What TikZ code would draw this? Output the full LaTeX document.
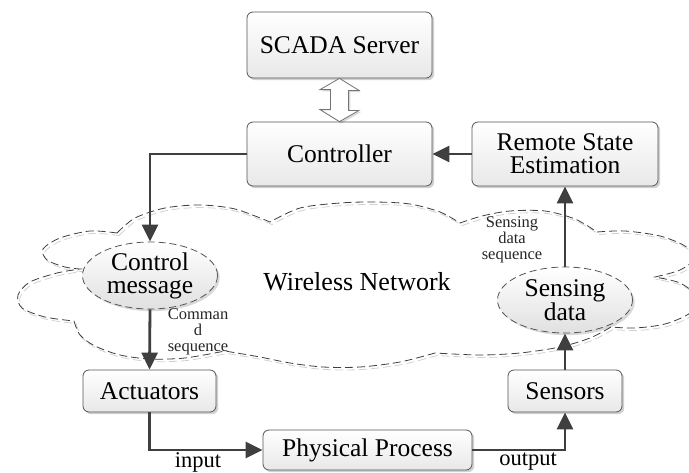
\documentclass[tikz,border=0pt]{standalone}
\usepackage{fontspec}
\setmainfont{Liberation Serif}
\usetikzlibrary{shapes.geometric,arrows.meta,shadows,calc}
\definecolor{dk}{HTML}{3F3F3F}
\definecolor{bd}{HTML}{555555}
\begin{document}
\begin{tikzpicture}[x=1pt,y=-1pt,
  box/.style={rectangle, draw=bd, line width=0.8pt, rounded corners=6pt,
     top color=white, bottom color=black!9, inner sep=0pt, align=center,
     drop shadow={shadow xshift=2.2pt, shadow yshift=-2.2pt, fill=black, opacity=0.18},
     font=\fontsize{25.5}{23}\selectfont},
  ell/.style={ellipse, draw=bd, line width=0.8pt, dash pattern=on 7pt off 4pt,
     top color=white, bottom color=black!12, inner sep=0pt, align=center,
     drop shadow={shadow xshift=2.2pt, shadow yshift=-2.2pt, fill=black, opacity=0.15},
     font=\fontsize{25.5}{23}\selectfont},
  arr/.style={draw=dk, line width=2.8pt, -{Triangle[length=17pt,width=16pt]}},
  small/.style={font=\fontsize{16.5}{16}\selectfont, align=center, inner sep=0pt, text=black!85},
  lbl/.style={font=\fontsize{22.5}{22.5}\selectfont, inner sep=0pt},
  cloudline/.style={draw=dk, line width=0.8pt, dash pattern=on 8pt off 4pt},
  cloudshadow/.style={draw=black!18, line width=0.8pt, dash pattern=on 8pt off 4pt},
  dbl/.style={draw=black!55, line width=0.8pt, fill=white},
]
\useasboundingbox (0,0) rectangle (689,472);
\def\mycloud{
  plot[smooth] coordinates {(117,233) (135,218) (165,208) (200,205) (235,209) (270,222)}
  -- plot[smooth] coordinates {(270,222) (300,208) (340,203) (375,202) (410,204) (440,212) (460,223)}
  -- plot[smooth] coordinates {(460,223) (482,216) (510,211) (545,211) (575,219) (597,232)}
  -- plot[smooth] coordinates {(597,232) (625,231) (660,236) (685,246) (695,258) (680,270) (655,277)}
  -- plot[smooth] coordinates {(655,277) (680,283) (697,297) (690,313) (665,324) (635,328) (611,327)}
  -- plot[smooth] coordinates {(611,327) (590,338) (560,347) (520,353) (480,355) (435,353)}
  -- plot[smooth] coordinates {(435,353) (400,362) (360,367) (323,367) (290,363) (260,357) (225,351)}
  -- plot[smooth] coordinates {(225,351) (185,358) (150,359) (120,355) (95,346) (80,335) (74,321)}
  -- plot[smooth] coordinates {(74,321) (45,317) (22,308) (18,295) (30,282) (57,273) (80,269)}
  -- plot[smooth] coordinates {(80,269) (65,267) (47,260) (43,249) (60,238) (90,231) (117,233)}
}
% cloud
\draw[cloudshadow, xshift=2pt, yshift=-2.5pt] \mycloud;
\draw[cloudline] \mycloud;
\node[font=\fontsize{26}{26}\selectfont] (wn) at (357,282) {Wireless Network};

% nodes
\node[box, minimum width=185pt, minimum height=66pt] (scada) at (339.5,45) {SCADA Server};
\node[box, minimum width=185pt, minimum height=64pt] (ctrl) at (339.5,154) {Controller};
\node[box, minimum width=186pt, minimum height=64pt] (rse) at (565,154) {Remote State\\Estimation};
\node[ell, minimum width=135pt, minimum height=67pt] (cm) at (150,275.5) {Control\\message};
\node[ell, minimum width=135pt, minimum height=66pt] (sd) at (565,300) {Sensing\\data};
\node[box, minimum width=133pt, minimum height=42pt] (act) at (149.5,391) {Actuators};
\node[box, minimum width=114pt, minimum height=42pt] (sens) at (565,391) {Sensors};
\node[box, minimum width=209pt, minimum height=40pt] (pp) at (367.5,450) {Physical Process};

% double arrow
\draw[dbl, drop shadow={shadow xshift=1.8pt, shadow yshift=-1.8pt, fill=black, opacity=0.15}]
  (scada.south) -- ++(19.5,12) -- ++(-10.5,0) -- ++(0,20) -- ++(10.5,0) -- (ctrl.north)
  -- ++(-19.5,-12) -- ++(10.5,0) -- ++(0,-20) -- ++(-10.5,0) -- cycle;

% connectors
\draw[arr] (rse.west) -- (ctrl.west -| ctrl.east);
\draw[arr] (ctrl.west) -| (cm.north);
\draw[arr] (cm.south) -- (act.north);
\draw[arr] (act.south) |- (pp.west);
\draw[arr] (pp.east) -| (sens.south);
\draw[arr] (sens.north) -- (sd.south);
\draw[arr] (sd.north) -- (rse.south);

% labels
\node[small] (cmdseq) at (198,332) {Comman\\d\\sequence};
\node[small] (sdseq) at (512,239.5) {Sensing\\data\\sequence};
\node[lbl] (inl) at (198,462) {input};
\node[lbl] (outl) at (528,461.5) {output};
\end{tikzpicture}
\end{document}
